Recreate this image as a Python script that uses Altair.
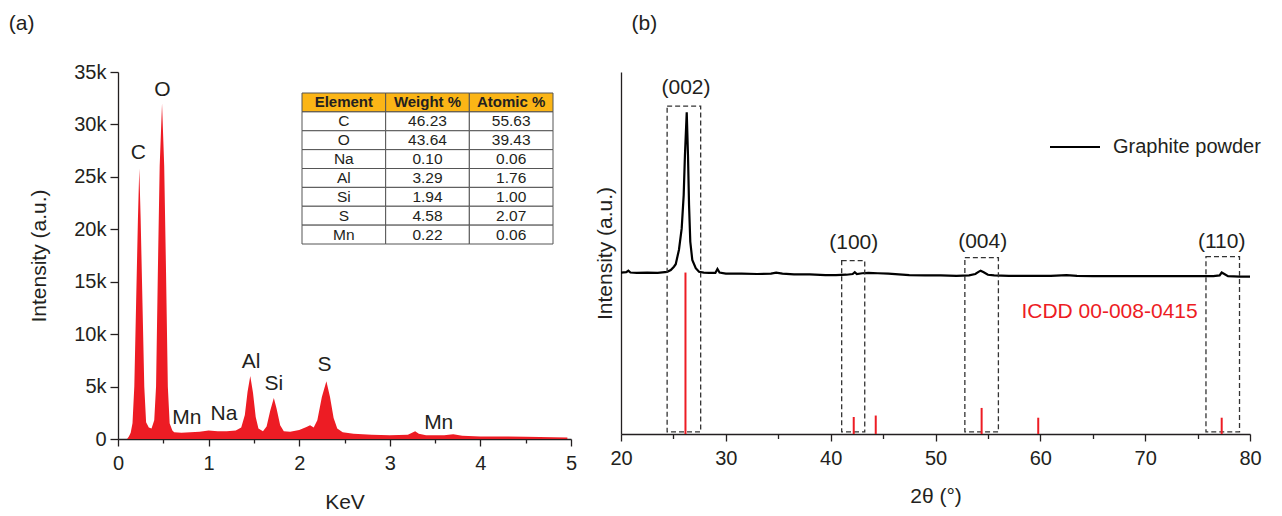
import altair as alt
import pandas as pd

# ---------------- (a) EDS spectrum ----------------
eds_kev = [0.00, 0.10, 0.12, 0.14, 0.16, 0.18, 0.20, 0.22, 0.235, 0.25, 0.27, 0.29, 0.31,
           0.34, 0.37, 0.40, 0.42, 0.44, 0.46, 0.486, 0.51, 0.53, 0.55, 0.57, 0.60,
           0.62, 0.70, 0.80, 0.90, 1.00, 1.10, 1.20, 1.30, 1.36, 1.40, 1.43, 1.46, 1.49, 1.52,
           1.55, 1.60, 1.64, 1.68, 1.72, 1.75, 1.79, 1.83, 1.90, 2.00, 2.08, 2.12, 2.16, 2.20,
           2.25, 2.30, 2.34, 2.38, 2.42, 2.48, 2.60, 2.80, 3.00, 3.20, 3.28, 3.32, 3.40, 3.60,
           3.70, 3.80, 4.00, 4.50, 4.96]
eds_counts = [0, 0, 250, 600, 1500, 5000, 13000, 21000, 25800, 21000, 13000, 5000, 1600,
              1100, 1000, 1800, 5000, 16000, 26000, 32000, 26000, 16000, 5000, 1500, 800,
              650, 600, 650, 700, 800, 750, 750, 800, 1100, 2300, 4500, 6000, 4400, 2100,
              1000, 750, 1200, 2700, 3900, 2900, 1300, 750, 700, 850, 1150, 1300, 1100, 1800,
              4000, 5500, 4000, 2000, 1000, 650, 500, 400, 350, 400, 750, 500, 350, 350,
              450, 300, 250, 220, 150]

peak_labels = ["C", "O", "Mn", "Na", "Al", "Si", "S", "Mn"]
peak_label_kev = [0.225, 0.49, 0.76, 1.17, 1.47, 1.72, 2.28, 3.54]
peak_label_counts = [27300, 33300, 2000, 2400, 7300, 5200, 7100, 1550]

table_header = ["Element", "Weight %", "Atomic %"]
table_elements = ["C", "O", "Na", "Al", "Si", "S", "Mn"]
table_weight = ["46.23", "43.64", "0.10", "3.29", "1.94", "4.58", "0.22"]
table_atomic = ["55.63", "39.43", "0.06", "1.76", "1.00", "2.07", "0.06"]

# ---------------- (b) XRD pattern ----------------
xrd_2theta = [20.0, 20.5, 20.7, 20.9, 21.5, 22.5, 23.5, 24.4, 24.75, 25.05, 25.22, 25.53, 25.79,
              25.98, 26.1, 26.27, 26.39, 26.49, 26.61, 26.8, 27.13, 27.44, 27.9, 28.4, 29.0, 29.2,
              29.4, 30.0, 31.5, 33.0, 34.3, 34.8, 35.4, 36.5, 38.0, 39.5, 40.5, 41.5, 42.1, 42.3,
              42.5, 43.0, 43.6, 44.5, 45.5, 46.5, 47.5, 49.0, 50.5, 52.0, 53.2, 53.8, 54.1, 54.3,
              54.6, 55.0, 55.6, 57.0, 59.0, 61.0, 62.5, 63.5, 65.0, 67.0, 69.0, 71.0, 73.0, 75.0,
              76.5, 77.1, 77.3, 77.55, 77.9, 79.0, 80.0]
xrd_intensity = [44.6, 44.7, 45.1, 44.6, 44.5, 44.6, 44.5, 44.8, 45.3, 46.2, 46.9, 50.9, 56.8,
                 66.0, 77.1, 88.9, 77.0, 63.3, 53.1, 48.1, 45.8, 44.8, 44.6, 44.5, 44.5, 45.6,
                 44.6, 44.3, 44.3, 44.2, 44.3, 44.6, 44.3, 44.1, 44.1, 43.9, 43.9, 44.0, 44.2, 44.7,
                 44.2, 44.4, 44.5, 44.4, 44.3, 44.1, 43.9, 43.8, 43.8, 43.7, 43.8, 44.2, 44.8, 45.1,
                 44.7, 44.0, 43.8, 43.7, 43.7, 43.7, 43.9, 43.7, 43.6, 43.6, 43.6, 43.6, 43.6, 43.6,
                 43.6, 43.8, 44.6, 44.2, 43.6, 43.5, 43.5]

icdd_2theta = [26.15, 42.2, 44.3, 54.4, 59.8, 77.3]
icdd_intensity = [44.6, 4.7, 5.1, 7.2, 4.5, 4.5]

hkl_labels = ["(002)", "(100)", "(004)", "(110)"]
hkl_label_2theta = [26.2, 42.2, 54.5, 77.3]
hkl_label_y = [95.6, 52.8, 53.0, 53.0]
box_start = [24.4, 41.05, 52.8, 75.8]
box_end = [27.6, 43.25, 56.0, 79.0]
box_top = [90.6, 47.9, 48.7, 49.0]
box_bottom = [0.6, 0.6, 0.6, 0.6]

icdd_label = ["ICDD 00-008-0415"]
icdd_label_2theta = [66.6]
icdd_label_y = [33.7]

series_name = "Graphite powder"

FONT = "Liberation Sans"
TXT = "#231f20"
RED = "#ed1c24"
ANN = 21

# ---------------- build panel (a) ----------------
eds_df = pd.DataFrame({"kev": eds_kev, "counts": eds_counts})
plab_df = pd.DataFrame({"label": peak_labels, "kev": peak_label_kev, "counts": peak_label_counts})

eds_xscale = alt.Scale(domain=[0, 5], nice=False, zero=False)
eds_yscale = alt.Scale(domain=[0, 35000], nice=False)

ex = alt.X("kev:Q", scale=eds_xscale,
           axis=alt.Axis(title="KeV", values=[0, 0.5, 1, 1.5, 2, 2.5, 3, 3.5, 4, 4.5, 5],
                         labelExpr="datum.value % 1 == 0 ? format(datum.value, 'd') : ''",
                         tickSize={"condition": {"test": "datum.value % 1 == 0", "value": 7}, "value": 4},
                         labelFlush=False, labelPadding=7, titlePadding=18, grid=False))
ey = alt.Y("counts:Q", scale=eds_yscale,
           axis=alt.Axis(title="Intensity (a.u.)", values=[i * 2500 for i in range(15)],
                         labelExpr="datum.value % 5000 == 0 ? (datum.value == 0 ? '0' : (datum.value/1000) + 'k') : ''",
                         tickSize={"condition": {"test": "datum.value % 5000 == 0", "value": 8}, "value": 4.5},
                         labelFlush=False, labelPadding=4, titlePadding=24, grid=False))

area = alt.Chart(eds_df).mark_area(color=RED, interpolate="linear").encode(x=ex, y=ey)
plabels = alt.Chart(plab_df).mark_text(fontSize=ANN, font=FONT, color=TXT).encode(
    x=alt.X("kev:Q", scale=eds_xscale), y=alt.Y("counts:Q", scale=eds_yscale), text="label:N")

rows = []
for c, h in enumerate(table_header):
    rows.append({"col": c, "row": 0, "text": h, "header": True})
for r in range(len(table_elements)):
    for c, v in enumerate([table_elements[r], table_weight[r], table_atomic[r]]):
        rows.append({"col": c, "row": r + 1, "text": v, "header": False})
tab_df = pd.DataFrame(rows)

tx = alt.X("col:O", scale=alt.Scale(type="band", paddingInner=0, paddingOuter=0, range=[184, 435]), axis=None)
ty = alt.Y("row:O", scale=alt.Scale(type="band", paddingInner=0, paddingOuter=0, range=[21, 172]), axis=None)
cells = alt.Chart(tab_df).mark_rect(stroke="#555555", strokeWidth=1).encode(
    x=tx, y=ty,
    fill=alt.condition("datum.header", alt.value("#fbb516"), alt.value("white")))
htext = alt.Chart(tab_df).transform_filter("datum.header").mark_text(
    fontSize=15, fontWeight="bold", font=FONT, color=TXT).encode(x=tx, y=ty, text="text:N")
btext = alt.Chart(tab_df).transform_filter("!datum.header").mark_text(
    fontSize=15.5, font=FONT, color=TXT).encode(x=tx, y=ty, text="text:N")

left = alt.layer(alt.layer(area, plabels), alt.layer(cells, htext, btext)).resolve_scale(
    x="independent", y="independent").properties(
    width=453, height=367,
    title=alt.TitleParams("(a)", anchor="start", frame="bounds", fontSize=21, fontWeight="normal",
                          font=FONT, color=TXT, dx=-20, offset=28))

# ---------------- build panel (b) ----------------
xrd_df = pd.DataFrame({"tt": xrd_2theta, "inten": xrd_intensity, "series": series_name})
icdd_df = pd.DataFrame({"tt": icdd_2theta, "top": icdd_intensity, "base": [0] * len(icdd_2theta)})
box_df = pd.DataFrame({"x1": box_start, "x2": box_end, "y1": box_bottom, "y2": box_top})
hkl_df = pd.DataFrame({"label": hkl_labels, "tt": hkl_label_2theta, "y": hkl_label_y})
icl_df = pd.DataFrame({"label": icdd_label, "tt": icdd_label_2theta, "y": icdd_label_y})

xrd_xscale = alt.Scale(domain=[20, 80], nice=False, zero=False)
xrd_yscale = alt.Scale(domain=[0, 100], nice=False)

rx = alt.X("tt:Q", scale=xrd_xscale,
           axis=alt.Axis(title="2θ (°)", values=list(range(20, 81, 5)),
                         labelExpr="datum.value % 10 == 0 ? datum.label : ''",
                         tickSize={"condition": {"test": "datum.value % 10 == 0", "value": 7}, "value": 4.5},
                         labelFlush=False, labelPadding=7, titlePadding=17, grid=False))
ry = alt.Y("inten:Q", scale=xrd_yscale,
           axis=alt.Axis(title="Intensity (a.u.)", labels=False, ticks=False, grid=False, titlePadding=5.5))

line = alt.Chart(xrd_df).mark_line(strokeWidth=2.2, interpolate="linear").encode(
    x=rx, y=ry,
    color=alt.Color("series:N", scale=alt.Scale(domain=[series_name], range=["black"]),
                    legend=alt.Legend(orient="none", legendX=428, legendY=49, title=None,
                                      symbolType="stroke", symbolSize=2500, symbolStrokeWidth=2,
                                      labelFontSize=20, labelFont=FONT, labelColor=TXT,
                                      labelOffset=12, padding=0)))
sticks = alt.Chart(icdd_df).mark_rule(color=RED, strokeWidth=2).encode(
    x=alt.X("tt:Q", scale=xrd_xscale), y=alt.Y("base:Q", scale=xrd_yscale), y2="top:Q")
boxes = alt.Chart(box_df).mark_rect(fill=None, fillOpacity=0, stroke="#333333", strokeWidth=1.3,
                                    strokeDash=[5, 3]).encode(
    x=alt.X("x1:Q", scale=xrd_xscale), x2="x2:Q", y=alt.Y("y1:Q", scale=xrd_yscale), y2="y2:Q")
hkl = alt.Chart(hkl_df).mark_text(fontSize=ANN, font=FONT, color=TXT).encode(
    x=alt.X("tt:Q", scale=xrd_xscale), y=alt.Y("y:Q", scale=xrd_yscale), text="label:N")
icl = alt.Chart(icl_df).mark_text(fontSize=ANN, font=FONT, color=RED).encode(
    x=alt.X("tt:Q", scale=xrd_xscale), y=alt.Y("y:Q", scale=xrd_yscale), text="label:N")

right = alt.layer(line, boxes, sticks, hkl, icl).properties(
    width=629, height=362,
    title=alt.TitleParams("(b)", anchor="start", frame="bounds", fontSize=21, fontWeight="normal",
                          font=FONT, color=TXT, dx=37, offset=38))

chart = alt.hconcat(left, right, spacing=17).resolve_legend(color="independent").configure_view(
    stroke=None).configure_axis(
    domainColor=TXT, tickColor=TXT, domainWidth=1.3, tickWidth=1.3,
    labelFont=FONT, labelFontSize=20, labelColor=TXT,
    titleFont=FONT, titleFontSize=21, titleFontWeight="normal", titleColor=TXT
).properties(padding={"left": 0, "top": 5, "right": 5, "bottom": 5})

chart.save("out.html", embed_options={"renderer": "svg", "actions": False})
